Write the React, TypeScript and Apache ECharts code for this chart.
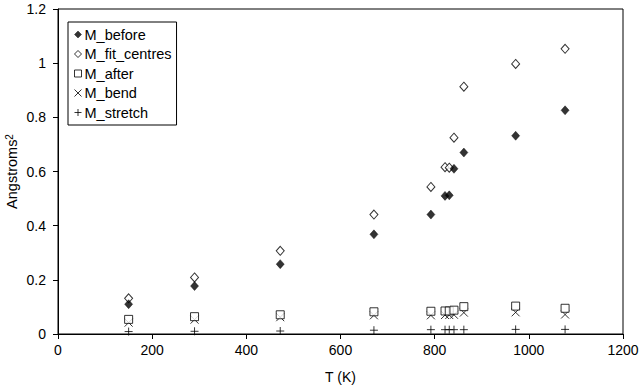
import React, { useEffect, useRef } from "react";
import * as echarts from "echarts";

const temps = [150, 290, 472, 671, 792, 822, 831, 841, 862, 972, 1077];
const mBefore = [0.110, 0.177, 0.258, 0.368, 0.441, 0.510, 0.512, 0.610, 0.670, 0.732, 0.826];
const mFitCentres = [0.132, 0.209, 0.307, 0.441, 0.543, 0.616, 0.614, 0.725, 0.913, 0.997, 1.053];
const mAfter = [0.054, 0.064, 0.071, 0.082, 0.084, 0.085, 0.085, 0.088, 0.101, 0.103, 0.095];
const mBend = [0.042, 0.053, 0.062, 0.069, 0.069, 0.070, 0.070, 0.071, 0.079, 0.080, 0.072];
const mStretch = [0.009, 0.010, 0.011, 0.014, 0.016, 0.016, 0.016, 0.016, 0.016, 0.017, 0.017];

const seriesNames = ["M_before", "M_fit_centres", "M_after", "M_bend", "M_stretch"];

const CROSS = "path://M0,0L10,10M10,0L0,10";
const PLUS = "path://M5,0L5,10M0,5L10,5";

export default function App() {
  const ref = useRef<HTMLDivElement>(null);
  useEffect(() => {
    if (!ref.current) return;
    const chart = echarts.init(ref.current, null, { renderer: "svg" });
    const font = "Liberation Sans, Arial, sans-serif";
    const mk = (vals: number[]) => temps.map((t, i) => [t, vals[i]]);
    const styles = [
      { symbol: "diamond", size: [8, 9], item: { color: "#000", borderColor: "#000", borderWidth: 0.5 } },
      { symbol: "diamond", size: [8, 9], item: { color: "#fff", borderColor: "#000", borderWidth: 1 } },
      { symbol: "rect", size: 8, item: { color: "#fff", borderColor: "#000", borderWidth: 1 } },
      { symbol: CROSS, size: 8, item: { color: "none", borderColor: "#000", borderWidth: 1 } },
      { symbol: PLUS, size: 8, item: { color: "none", borderColor: "#000", borderWidth: 1 } },
    ];
    const data = [mBefore, mFitCentres, mAfter, mBend, mStretch];
    chart.setOption({
      animation: false,
      backgroundColor: "#fff",
      textStyle: { fontFamily: font, color: "#000" },
      grid: {
        left: 58,
        right: 17,
        top: 9,
        bottom: 54,
        show: true,
        borderColor: "#000",
        borderWidth: 1,
        containLabel: false,
        outerBoundsMode: "none",
      },
      legend: {
        orient: "vertical",
        left: 68,
        top: 22,
        padding: [5, 5, 5, 4],
        itemGap: 4.5,
        itemWidth: 7,
        itemHeight: 7,
        borderColor: "#000",
        borderWidth: 1,
        backgroundColor: "#fff",
        textStyle: { fontFamily: font, fontSize: 14.5, color: "#000", padding: [0, 0, 0, -2] },
        data: seriesNames.map((n, i) => ({ name: n, icon: styles[i].symbol as string, itemStyle: styles[i].item })),
      },
      xAxis: {
        type: "value",
        min: 0,
        max: 1200,
        interval: 200,
        name: "T (K)",
        nameLocation: "middle",
        nameGap: 36,
        nameMoveOverlap: false,
        nameTextStyle: { fontFamily: font, fontSize: 14, color: "#000" },
        axisLine: { show: true, onZero: false, lineStyle: { color: "#000", width: 1 } },
        axisTick: { show: true, length: 5, lineStyle: { color: "#000" } },
        axisLabel: { fontFamily: font, fontSize: 14, color: "#000", margin: 9, formatter: (v: number) => String(v) },
        splitLine: { show: false },
      },
      yAxis: {
        type: "value",
        min: 0,
        max: 1.2,
        interval: 0.2,
        name: "Angstroms{sup|2}",
        nameLocation: "middle",
        nameGap: 39,
        nameMoveOverlap: false,
        nameTextStyle: {
          fontFamily: font,
          fontSize: 14.5,
          color: "#000",
          rich: { sup: { fontFamily: font, fontSize: 10, color: "#000", verticalAlign: "top", lineHeight: 10, padding: [0, 0, 6, 0] } },
        },
        axisLine: { show: true, lineStyle: { color: "#000", width: 1 } },
        axisTick: { show: true, length: 5, lineStyle: { color: "#000" } },
        axisLabel: { fontFamily: font, fontSize: 14, color: "#000", margin: 12, formatter: (v: number) => String(Math.round(v * 10) / 10) },
        splitLine: { show: false },
      },
      series: seriesNames.map((n, i) => ({
        name: n,
        type: "scatter",
        data: mk(data[i]),
        symbol: styles[i].symbol,
        symbolSize: styles[i].size,
        itemStyle: styles[i].item,
        z: 10 - i,
      })),
    });
    return () => chart.dispose();
  }, []);
  return <div ref={ref} style={{ width: 640, height: 388, position: "absolute", left: 0, top: 0 }} />;
}
